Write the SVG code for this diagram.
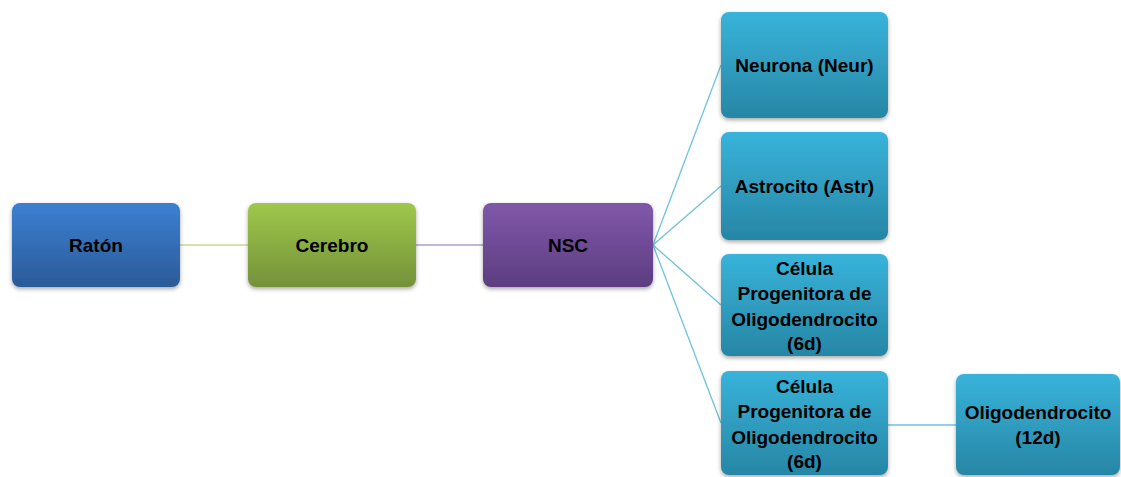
<svg xmlns="http://www.w3.org/2000/svg" width="1121" height="477" viewBox="0 0 1121 477">
<defs>
<linearGradient id="gBlue" x1="0" y1="0" x2="0" y2="1"><stop offset="0" stop-color="#3c80d2"/><stop offset="1" stop-color="#2b5a98"/></linearGradient>
<linearGradient id="gGreen" x1="0" y1="0" x2="0" y2="1"><stop offset="0" stop-color="#9fc84a"/><stop offset="1" stop-color="#74913a"/></linearGradient>
<linearGradient id="gPurple" x1="0" y1="0" x2="0" y2="1"><stop offset="0" stop-color="#7f58aa"/><stop offset="1" stop-color="#5d3d80"/></linearGradient>
<linearGradient id="gCyan" x1="0" y1="0" x2="0" y2="1"><stop offset="0" stop-color="#38b3da"/><stop offset="1" stop-color="#2786a5"/></linearGradient>
<filter id="sh" x="-10%" y="-10%" width="120%" height="125%"><feDropShadow dx="0" dy="2" stdDeviation="2" flood-color="#000" flood-opacity="0.35"/></filter>
</defs>
<style>
.box{filter:url(#sh)}
text{font-family:"Liberation Sans",Arial,sans-serif;font-weight:bold;font-size:19px;fill:#000;text-anchor:middle}
.c line{stroke-width:1.3;fill:none}
</style>
<rect width="1121" height="477" fill="#fff"/>
<g id="connectors" class="c">
<line x1="180" y1="245" x2="248" y2="245" stroke="#c4da95"/>
<line x1="416" y1="245" x2="483" y2="245" stroke="#b29ccd"/>
<line x1="653" y1="245" x2="721" y2="65" stroke="#6fc3dc"/>
<line x1="653" y1="245" x2="721" y2="186" stroke="#6fc3dc"/>
<line x1="653" y1="245" x2="721" y2="305" stroke="#6fc3dc"/>
<line x1="653" y1="245" x2="721" y2="423" stroke="#6fc3dc"/>
<line x1="888" y1="425" x2="956" y2="425" stroke="#6fc3dc"/>
</g>
<g id="raton"><rect class="box" x="12" y="203" width="168" height="84" rx="8" fill="url(#gBlue)"/><text x="96" y="251.5">Ratón</text></g>
<g id="cerebro"><rect class="box" x="248" y="203" width="168" height="84" rx="8" fill="url(#gGreen)"/><text x="332" y="251.5">Cerebro</text></g>
<g id="nsc"><rect class="box" x="483" y="203" width="170" height="84" rx="8" fill="url(#gPurple)"/><text x="568" y="251.5">NSC</text></g>
<g id="neurona"><rect class="box" x="721" y="12" width="167" height="106" rx="8" fill="url(#gCyan)"/><text x="804.5" y="72">Neurona (Neur)</text></g>
<g id="astrocito"><rect class="box" x="721" y="132" width="167" height="108" rx="8" fill="url(#gCyan)"/><text x="804.5" y="193">Astrocito (Astr)</text></g>
<g id="celula1"><rect class="box" x="721" y="254" width="167" height="102" rx="8" fill="url(#gCyan)"/><text x="804.5" y="275">Célula</text><text x="804.5" y="300">Progenitora de</text><text x="804.5" y="326">Oligodendrocito</text><text x="804.5" y="350">(6d)</text></g>
<g id="celula2"><rect class="box" x="721" y="371" width="167" height="104" rx="8" fill="url(#gCyan)"/><text x="804.5" y="393">Célula</text><text x="804.5" y="418">Progenitora de</text><text x="804.5" y="444">Oligodendrocito</text><text x="804.5" y="468">(6d)</text></g>
<g id="oligo"><rect class="box" x="956" y="374" width="164" height="101" rx="8" fill="url(#gCyan)"/><text x="1038" y="419">Oligodendrocito</text><text x="1038" y="444">(12d)</text></g>
</svg>
